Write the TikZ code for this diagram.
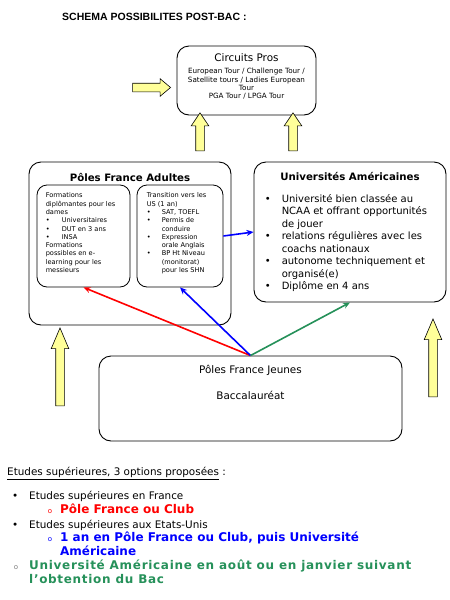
\documentclass[tikz,border=0pt]{standalone}
\usepackage{fontspec}
\setmainfont{DejaVu Sans}
\newfontfamily\titlefont{Liberation Sans}
\newfontfamily\spacedfont[LetterSpace = 5.8]{DejaVu Sans}
\usepackage{enumitem}
\usetikzlibrary{shapes.arrows, arrows.meta}

\definecolor{paleyellow}{RGB}{255,255,153}
\definecolor{optred}{RGB}{255,0,0}
\definecolor{optblue}{RGB}{0,0,255}
\definecolor{optgreen}{RGB}{38,145,90}

\tikzset{
	bigbox/.style = {draw = black, line width = 0.9pt, rounded corners = 12pt},
	smallbox/.style = {draw = black, line width = 0.8pt, rounded corners = 10pt},
	yarrow/.style = {single arrow, draw = black, fill = paleyellow, line width = 0.6pt,
		inner xsep = 0pt, inner ysep = 4pt, single arrow head extend = 4.5pt,
		single arrow head indent = 0pt},
	option/.style = {line width = 1.6pt, -{Stealth[length = 7pt, width = 6pt]}},
	boxtext/.style = {inner sep = 0pt, align = flush left}
}

\newcommand{\tinytxt}{\fontsize{6.6}{8.3}\selectfont}
\newcommand{\smalltxt}{\fontsize{7.2}{8.3}\selectfont}
\newcommand{\midtxt}{\fontsize{10}{12.5}\selectfont}
\setlist{itemsep = 0pt, topsep = 0pt, parsep = 0pt, partopsep = 0pt}

\begin{document}
\begin{tikzpicture}[x = 1pt, y = -1pt]

	\useasboundingbox [fill = white] (0, 0) rectangle (450, 600);

	% Title

	\node [anchor = west, inner sep = 0pt, font = \titlefont\bfseries\fontsize{10.5}{12}\selectfont]
		(title) at (62, 17) {SCHEMA POSSIBILITES POST-BAC :};

	% Circuits pros

	\node [bigbox, minimum width = 139pt, minimum height = 69pt] (circuits) at (246.5, 80.5) {};
	\node [inner sep = 0pt, font = \fontsize{10.4}{12}\selectfont]
		(circuitstitle) at ([yshift = -12pt] circuits.north) {Circuits Pros};
	\node [anchor = north, inner sep = 0pt, text width = 122pt, align = flush center, font = \smalltxt]
		(circuitstext) at ([yshift = -22.5pt] circuits.north)
		{European Tour / Challenge Tour / Satellite tours / Ladies European Tour\\
		 PGA Tour / LPGA Tour};

	% Poles France adultes

	\node [bigbox, minimum width = 202pt, minimum height = 163pt] (adultes) at (130, 243.5) {};
	\node [inner sep = 0pt, font = \bfseries\fontsize{10.2}{12}\selectfont]
		(adultestitle) at ([yshift = -16pt] adultes.north) {Pôles France Adultes};

	\node [smallbox, minimum width = 93pt, minimum height = 102pt] (formations) at (83.5, 236) {};
	\node [boxtext, anchor = north west, text width = 76pt, font = \tinytxt]
		(formationstext) at ([xshift = 9pt, yshift = -8pt] formations.north west)
		{Formations\\ diplômantes pour les\\ dames
		 \begin{itemize}[leftmargin = 16pt, labelsep = 12pt]
			\item Universitaires
			\item DUT en 3 ans
			\item INSA
		 \end{itemize}
		 Formations\\ possibles en e-\\ learning pour les\\ messieurs\par};

	\node [smallbox, minimum width = 86pt, minimum height = 102pt] (transition) at (180, 236) {};
	\node [boxtext, anchor = north west, text width = 66pt, font = \tinytxt]
		(transitiontext) at ([xshift = 10pt, yshift = -8pt] transition.north west)
		{Transition vers les US (1 an)
		 \begin{itemize}[leftmargin = 15pt, labelsep = 11pt]
			\item SAT, TOEFL
			\item Permis de conduire
			\item Expression orale Anglais
			\item BP Ht Niveau (monitorat) pour les SHN
		 \end{itemize}};

	% Universites americaines

	\node [bigbox, minimum width = 192pt, minimum height = 140pt] (universites) at (350, 232) {};
	\node [inner sep = 0pt, font = \bfseries\fontsize{10.2}{12}\selectfont]
		(universitestitle) at ([yshift = -15pt] universites.north) {Universités Américaines};
	\node [boxtext, anchor = north west, text width = 172pt, font = \midtxt]
		(universitestext) at ([xshift = 12pt, yshift = -28pt] universites.north west)
		{\begin{itemize}[leftmargin = 16pt, labelsep = 11pt]
			\item Université bien classée au NCAA et offrant opportunités de jouer
			\item relations régulières avec les coachs nationaux
			\item autonome techniquement et organisé(e)
			\item Diplôme en 4 ans
		 \end{itemize}};

	% Poles France jeunes

	\node [bigbox, minimum width = 303pt, minimum height = 85pt] (jeunes) at (250.5, 398.5) {};
	\node [inner sep = 0pt, align = center, anchor = north, font = \fontsize{10.4}{12}\selectfont]
		(jeunestext) at ([yshift = -9pt] jeunes.north)
		{Pôles France Jeunes\\[14pt] Baccalauréat};

	% Yellow arrows

	\node [yarrow, minimum height = 38pt, single arrow tip angle = 80] (intocircuits) at (149, 87.5) {};
	\node [yarrow, minimum height = 38pt, single arrow tip angle = 68, rotate = 90] (adultesup) at (200, 135) {};
	\node [yarrow, minimum height = 38pt, single arrow tip angle = 68, rotate = 90] (universitesup) at (293, 135) {};
	\node [yarrow, minimum height = 78pt, single arrow tip angle = 46, rotate = 90] (leftup) at (60, 372) {};
	\node [yarrow, minimum height = 78pt, single arrow tip angle = 46, rotate = 90] (rightup) at (433, 363) {};

	% The three options

	\coordinate (fork) at (jeunes.north);

	\draw [option, optred] (fork) -- (formations.south);
	\draw [option, optblue] (fork) -- (transition.south);
	\draw [option, optgreen] (fork) -- (universites.south);
	\draw [option, optblue] (transition.east) -- (universites.west);

	% Options text

	\node [boxtext, anchor = north west, text width = 405pt, font = \fontsize{10.4}{14.2}\selectfont]
		(options) at (7, 467)
		{\underline{Etudes supérieures, 3 options proposées} :
		 \begin{itemize}[leftmargin = 22pt, labelsep = 11pt, topsep = 10pt]
			\item Etudes supérieures en France
			\begin{itemize}[leftmargin = 31pt, labelsep = 8pt]
				\item[\textcolor{optred}{\fontsize{7}{7}\selectfont o}]
					\textcolor{optred}{\bfseries\fontsize{12}{14.2}\selectfont Pôle France ou Club}
			\end{itemize}
			\item Etudes supérieures aux Etats-Unis
			\begin{itemize}[leftmargin = 31pt, labelsep = 8pt]
				\item[\textcolor{optblue}{\fontsize{7}{7}\selectfont o}]
					\color{optblue}\bfseries\fontsize{12}{13.5}\selectfont 1 an en Pôle France ou Club, puis Université Américaine
			\end{itemize}
			\item[\textcolor{gray}{\fontsize{7}{7}\selectfont o}]
				\color{optgreen}\spacedfont\bfseries\fontsize{12}{14.2}\selectfont Université Américaine en août ou en janvier suivant l’obtention du Bac
		 \end{itemize}};

\end{tikzpicture}
\end{document}
